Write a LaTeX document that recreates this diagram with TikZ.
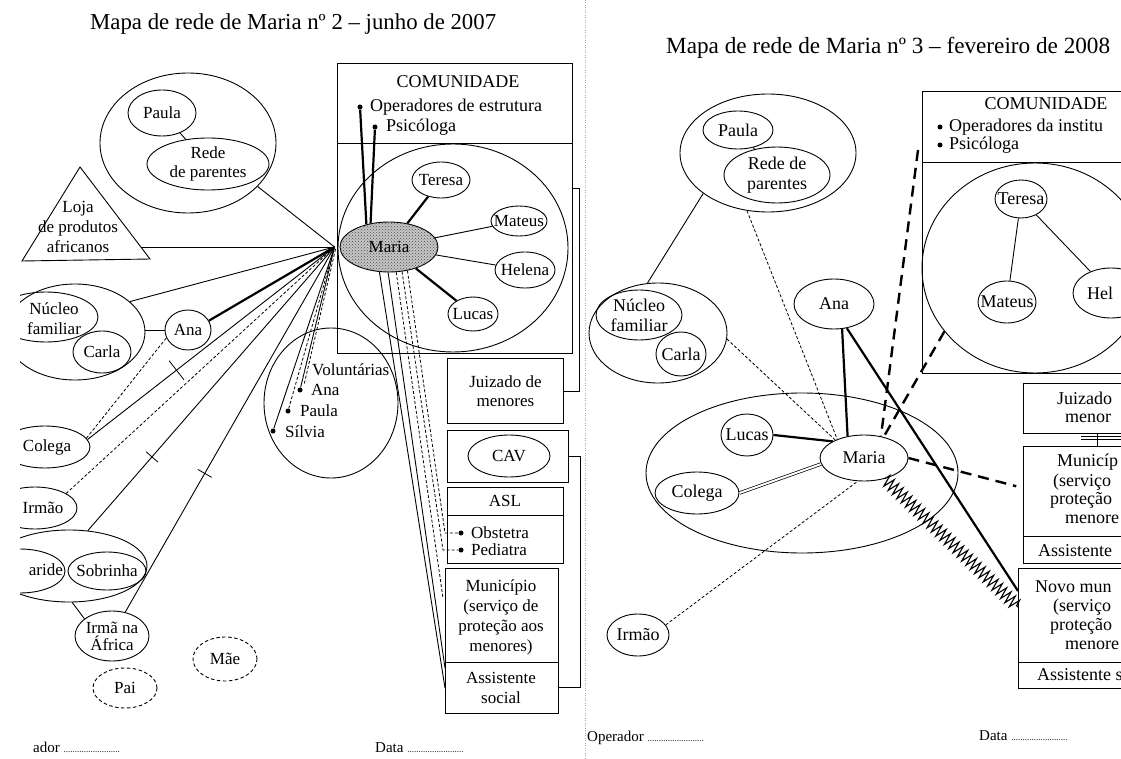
\documentclass[tikz,border=0pt]{standalone}
\usepackage{fontspec}
\setmainfont{Liberation Serif}
\usetikzlibrary{shapes.geometric,decorations.pathmorphing,calc,patterns}
\begin{document}
\begin{tikzpicture}[x=1pt,y=-1pt,
  every node/.style={inner sep=0pt, font=\fontsize{17}{19}\selectfont},
  ln/.style={line width=0.9pt},
  thk/.style={line width=2.2pt},
  fdash/.style={line width=0.8pt, dash pattern=on 3pt off 2pt},
  bdash/.style={line width=2.4pt, dash pattern=on 11pt off 7pt},
  zig/.style={line width=1.1pt, decorate, decoration={zigzag, segment length=6pt, amplitude=6pt}},
  ell/.style 2 args={ellipse, draw, line width=0.9pt, minimum width=#1pt, minimum height=#2pt, inner xsep=-45pt, inner ysep=-30pt, align=center},
  dell/.style 2 args={ell={#1}{#2}, dash pattern=on 3.5pt off 2.5pt},
  box/.style 2 args={draw, line width=0.9pt, minimum width=#1pt, minimum height=#2pt, anchor=north west, align=center},
  bullet/.style={circle, fill, minimum size=5pt},
  tickmark/.style={sloped, draw, line width=0.8pt, minimum width=0pt, minimum height=#1pt},
  ttl/.style={font=\fontsize{22.8}{24}\selectfont, anchor=base west},
  foot/.style={font=\fontsize{15}{17}\selectfont, anchor=base west}
]
\useasboundingbox (0,0) rectangle (1121,759);
\clip (0,0) rectangle (1121,759);
\fill[white] (0,0) rectangle (1121,759);

% fold between the two pages
\draw[gray!70, dash pattern=on 1pt off 1.5pt] (585,0) -- (585,759);

% ================= map no. 2 =================
\node[ttl] (t1) at (90,30) {Mapa de rede de Maria nº 2 – junho de 2007};

\begin{scope}
\clip (20,0) rectangle (584,759);

% community box
\node[box={235}{290}] (com2) at (337,63) {};
\draw[ln] ($(com2.north west)+(0,80)$) -- ($(com2.north east)+(0,80)$);
\node[font=\fontsize{18}{20}\selectfont] (comt2) at (458,82) {COMUNIDADE};
\node[bullet] (op2) at (360,107) {};
\node[bullet] (ps2) at (375,127) {};
\node[anchor=west, font=\fontsize{18}{20}\selectfont] (opt2) at (370,107) {Operadores de estrutura};
\node[anchor=west, font=\fontsize{18}{20}\selectfont] (pst2) at (386,127) {Psicóloga};
\node[ell={230}{208}] (circ2) at (453,248) {};

\node[ell={98}{50}, fill=gray!45, postaction={pattern=crosshatch dots, pattern color=black!70}] (maria2) at (389,247) {Maria};
\node[ell={58}{36}] (teresa2) at (441,180) {Teresa};
\node[ell={56}{30}] (mateus2) at (519,221) {Mateus};
\node[ell={60}{36}] (helena2) at (525,270) {Helena};
\node[ell={50}{34}] (lucas2) at (473,314) {Lucas};
\draw[thk] (maria2) -- (teresa2);
\draw[ln] (maria2) -- (mateus2);
\draw[ln] (maria2) -- (helena2);
\draw[thk] (maria2) -- (lucas2);
\draw[thk] (op2) -- (maria2.135);
\draw[thk] (ps2) -- (maria2.128);

\coordinate (hub) at ($(maria2.west)+(-5,0)$);

% family network
\node[ell={176}{140}] (fam2) at (188,143) {};
\node[ell={68}{46}] (paula2) at (162,113) {Paula};
\node[ell={122}{52}] (rede2) at (208,164) {Rede\\de parentes};
\draw[ln] (paula2) -- (rede2);

% shop
\draw[ln] (80,167) -- (150,259) -- (22,261) -- cycle;
\node[align=center, font=\fontsize{17}{20}\selectfont] (loja) at (78,227) {Loja\\de produtos\\africanos};
\coordinate (lojaR) at (141,247);

% household
\node[ell={140}{96}] (nuc2) at (75,332) {};
\node[ell={104}{50}] (nf2) at (46,317) {};
\node[align=center, font=\fontsize{17}{20}\selectfont] (nft2) at (54,319) {Núcleo\\familiar};
\node[ell={58}{42}] (carla2) at (102,352) {Carla};
\node[ell={46}{40}] (ana2) at (188,330) {Ana};
\draw[ln] (ana2.west) -- (ana2.west -| nuc2.east);

\node[ell={90}{42}] (col2) at (45,447) {};
\node (colt2) at (47,447) {Colega};
\draw[fdash] (col2.12) -- (ana2.200);

\node[ell={84}{42}] (irm2) at (35,508) {};
\node (irmt2) at (43,508) {Irmão};

\node[ell={156}{72}] (sobg2) at (69,566) {};
\node[ell={90}{44}] (mar2) at (20,571) {};
\node[anchor=east] (mart2) at (63,570) {aride};
\node[ell={78}{38}] (sob2) at (107,571) {Sobrinha};
\node[ell={74}{50}, font=\fontsize{17}{17}\selectfont] (irma2) at (112,636) {Irmã na\\África};
\draw[ln] (sobg2.275) -- (irma2.148);
\node[dell={64}{40}] (pai2) at (125,688) {Pai};
\node[dell={64}{44}] (mae2) at (225,659) {Mãe};

% volunteers
\node[ell={134}{150}] (vol2) at (331,403) {};
\node[anchor=west] (volt2) at (312,370) {Voluntárias};
\node[bullet] (vana) at (300,390) {};
\node[bullet] (vpau) at (288,411) {};
\node[bullet] (vsil) at (273,431) {};
\node[anchor=west] (vanat) at (311,390) {Ana};
\node[anchor=west] (vpaut) at (300,411) {Paula};
\node[anchor=west] (vsilt) at (285,432) {Sílvia};

% ties to Maria
\draw[ln] (fam2.-32) -- (hub);
\draw[ln] (lojaR) -- (hub);
\draw[ln] (nuc2.29) -- (hub);
\draw[thk] (ana2.24) -- (hub);
\draw[ln] (col2.10) -- (hub) node[tickmark=24, pos=0.36] (tk1) {};
\draw[fdash] (irm2.25) -- (hub);
\draw[ln] (sobg2.62) -- (hub) node[tickmark=16, pos=0.26] (tk2) {};
\draw[ln] (irma2.61) -- (hub) node[tickmark=16, pos=0.38] (tk3) {};
\draw[ln] (hub) -- (vana);
\draw[fdash] ($(hub)+(1,2)$) -- ($(vana)+(4,-5)$);
\draw[fdash] (hub) -- (vpau);
\draw[ln] (hub) -- (vsil);

% services
\node[box={116}{65}] (juiz2) at (447,358) {Juizado de\\menores};
\node[box={121}{52}] (cav2) at (447,430) {};
\node[ell={82}{42}] (cavt) at (509,456) {CAV};
\node[box={116}{76}] (asl2) at (447,487) {};
\draw[ln] ($(asl2.north west)+(0,28)$) -- ($(asl2.north east)+(0,28)$);
\node (aslt) at (505,501) {ASL};
\node[bullet] (obs2) at (461,533) {};
\node[anchor=west] (obst) at (471,533) {Obstetra};
\node[bullet] (ped2) at (461,550) {};
\node[anchor=west] (pedt) at (471,550) {Pediatra};
\node[box={113}{145}] (mun2) at (445,568) {};
\draw[ln] ($(mun2.north west)+(0,94)$) -- ($(mun2.north east)+(0,94)$);
\node[align=center, font=\fontsize{17}{20}\selectfont] (munt2) at (501,617) {Município\\(serviço de\\proteção aos\\menores)};
\node[align=center, font=\fontsize{17}{20}\selectfont] (asst2) at (501,688) {Assistente\\social};

\draw[ln] (maria2.249) -- ($(mun2.north west)+(0,120)$);
\draw[ln] (maria2.268) -- ($(mun2.north west)+(0,100)$);
\draw[fdash] (maria2.286) -- ($(mun2.north west)+(-2,30)$);
\draw[fdash] (maria2.298) -- ($(asl2.north west)+(-4,63)$) -- (ped2);
\draw[fdash] (maria2.308) -- ($(asl2.north west)+(-2,46)$) -- (obs2);

% brackets
\draw[ln] ($(com2.north east)+(0,125)$) -- ++(7,0) |- (juiz2.east);
\draw[ln] (cav2.east) -- ++(12,0) |- ($(mun2.south east)+(0,-26)$);

\node[foot] (op2f) at (33,752) {ador {\fontsize{9}{10}\selectfont .........................}};
\node[foot] (da2f) at (375,752) {Data {\fontsize{9}{10}\selectfont .........................}};
\end{scope}

% ================= map no. 3 =================
\begin{scope}[every node/.append style={font=\fontsize{18}{20}\selectfont}]
\node[ttl, font=\fontsize{23.2}{25}\selectfont] (t2) at (666,54) {Mapa de rede de Maria nº 3 – fevereiro de 2008};

\node[ell={176}{118}] (fam3) at (768,153) {};
\node[ell={70}{38}] (paula3) at (738,130) {Paula};
\node[ell={106}{56}] (rede3) at (777,175) {Rede de\\parentes};
\draw[ln] (paula3) -- (rede3);

\node[ell={138}{100}] (nuc3) at (658,333) {};
\node[ell={86}{50}] (nf3) at (639,315) {Núcleo\\familiar};
\node[ell={50}{44}] (carla3) at (681,354) {Carla};
\node[ell={80}{50}] (ana3) at (834,304) {Ana};

\node[ell={312}{160}] (big3) at (802,473) {};
\node[ell={88}{46}] (maria3) at (864,458) {Maria};
\node[ell={52}{42}] (lucas3) at (747,435) {Lucas};
\node[ell={84}{42}] (col3) at (697,493) {Colega};
\node[ell={62}{42}] (irm3) at (638,635) {Irmão};

% community box
\node[box={250}{282}] (com3) at (922,91) {};
\draw[ln] ($(com3.north west)+(0,71)$) -- ($(com3.north east)+(0,71)$);
\node (comt3) at (1046,104) {COMUNIDADE};
\node[bullet] (op3) at (940,127) {};
\node[anchor=west] (opt3) at (949,127) {Operadores da institu};
\node[bullet] (ps3) at (940,145) {};
\node[anchor=west] (pst3) at (949,145) {Psicóloga};
\node[ell={226}{210}] (circ3) at (1035,268) {};
\node[ell={52}{38}] (ter3) at (1021,199) {Teresa};
\node[ell={58}{42}] (mat3) at (1007,302) {Mateus};
\node[ell={76}{50}] (hel3) at (1111,293) {};
\node[anchor=west] (helt3) at (1087,293) {Hel};
\draw[ln] (ter3) -- (mat3);
\draw[ln] (ter3) -- (hel3);

% services
\node[box={120}{50}] (juiz3) at (1023,383) {};
\node[anchor=west] (juizt3) at (1057,398) {Juizado};
\node[anchor=west] (juizm3) at (1065,418) {menor};
\node[box={120}{117}] (mun3) at (1023,446) {};
\draw[ln] ($(mun3.north west)+(0,90)$) -- ($(mun3.north east)+(0,90)$);
\draw[ln] ($(juiz3.south west)+(74,0)$) -- ($(mun3.north west)+(74,0)$);
\draw[ln] ($(juiz3.south west)+(58,3)$) -- ++(70,0);
\draw[ln] ($(juiz3.south west)+(58,6)$) -- ++(70,0);
\node[anchor=west] (munt3a) at (1057,462) {Municíp};
\node[anchor=west] (munt3b) at (1053,482) {(serviço};
\node[anchor=west] (munt3c) at (1050,500) {proteção};
\node[anchor=west] (munt3d) at (1065,519) {menore};
\node[anchor=west] (munt3e) at (1038,551) {Assistente};
\node[box={130}{120}] (novo3) at (1018,568) {};
\draw[ln] ($(novo3.north west)+(0,94)$) -- ($(novo3.north east)+(0,94)$);
\node[anchor=west] (novt3a) at (1035,587) {Novo mun};
\node[anchor=west] (novt3b) at (1053,607) {(serviço};
\node[anchor=west] (novt3c) at (1050,626) {proteção};
\node[anchor=west] (novt3d) at (1065,645) {menore};
\node[anchor=west] (novt3e) at (1037,675) {Assistente s};

% ties to Maria
\draw[ln] (fam3.212) -- (nuc3.102);
\draw[fdash] (fam3.250) -- (maria3.145);
\draw[fdash] (nuc3.-5) -- (maria3.148);
\draw[thk] (ana3.-72) -- (maria3.127);
\draw[thk] (ana3.-62) -- ($(novo3.north west)+(0,23)$);
\draw[thk] (lucas3.east) -- (maria3.152);
\draw[line width=0.7pt, double, double distance=2pt] (col3.east) -- (maria3.188);
\draw[fdash] (irm3.20) -- (maria3.255);
\draw[bdash] ($(com3.north west)+(-4,59)$) -- (maria3.52);
\draw[bdash] (circ3.215) -- (maria3.47);
\draw[bdash, shorten >=7pt] (maria3.east) -- ($(mun3.north west)+(0,42)$);
\draw[zig] (maria3.-45) -- ($(novo3.north west)+(0,39)$);

\node[foot] (op3f) at (587,741) {Operador {\fontsize{9}{10}\selectfont .........................}};
\node[foot] (da3f) at (979,740) {Data {\fontsize{9}{10}\selectfont .........................}};
\end{scope}
\end{tikzpicture}
\end{document}
